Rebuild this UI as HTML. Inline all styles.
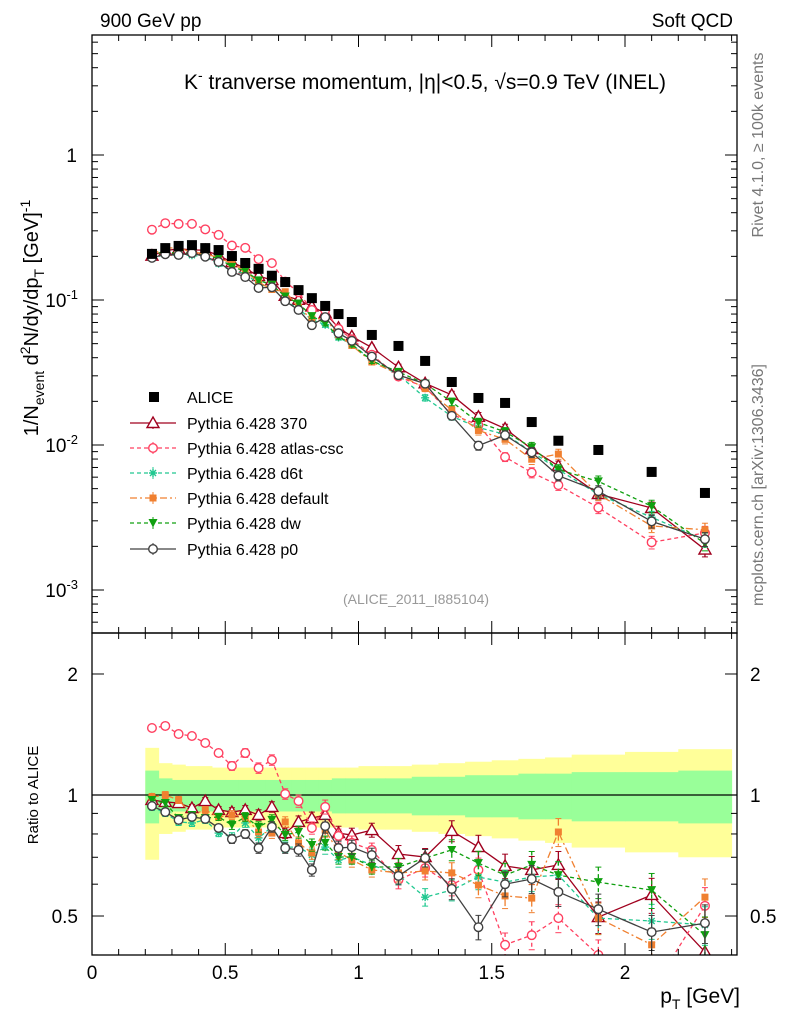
<!DOCTYPE html>
<html><head><meta charset="utf-8"><style>
html,body{margin:0;padding:0;background:#fff}
svg{display:block;font-family:"Liberation Sans",sans-serif}
</style></head><body>
<svg id="c" width="786" height="1024" viewBox="0 0 786 1024"></svg>
<script>
const xVals=[0.225,0.275,0.325,0.375,0.425,0.475,0.525,0.575,0.625,0.675,0.725,0.775,0.825,0.875,0.925,0.975,1.05,1.15,1.25,1.35,1.45,1.55,1.65,1.75,1.9,2.1,2.3];
const binEdges=[0.2,0.25,0.3,0.35,0.4,0.45,0.5,0.55,0.6,0.65,0.7,0.75,0.8,0.85,0.9,0.95,1.0,1.1,1.2,1.3,1.4,1.5,1.6,1.7,1.8,2.0,2.2,2.4];
const alice=[0.208,0.228,0.236,0.239,0.228,0.221,0.201,0.180,0.164,0.147,0.133,0.117,0.103,0.091,0.080,0.0705,0.0574,0.0482,0.0380,0.0272,0.0211,0.0195,0.0144,0.0107,0.00924,0.00652,0.00467];
const yellowErr=[0.31,0.2,0.19,0.18,0.18,0.17,0.17,0.17,0.17,0.17,0.17,0.17,0.17,0.17,0.17,0.17,0.18,0.18,0.19,0.2,0.21,0.22,0.23,0.24,0.26,0.28,0.30];
const greenErr=[0.15,0.1,0.09,0.09,0.09,0.09,0.09,0.09,0.09,0.09,0.09,0.09,0.09,0.09,0.1,0.1,0.1,0.1,0.11,0.11,0.12,0.12,0.13,0.13,0.14,0.14,0.15];
const mcErr=[0.02,0.02,0.02,0.02,0.02,0.02,0.025,0.025,0.03,0.03,0.03,0.035,0.035,0.04,0.04,0.04,0.04,0.05,0.05,0.06,0.07,0.07,0.08,0.08,0.09,0.1,0.11];
const r370=[0.972,0.961,0.955,0.928,0.966,0.918,0.907,0.918,0.892,0.934,0.804,0.857,0.876,0.892,0.804,0.795,0.818,0.713,0.701,0.814,0.742,0.666,0.651,0.670,0.497,0.564,0.407];
const rAtlas=[1.468,1.485,1.418,1.402,1.347,1.272,1.181,1.272,1.167,1.222,1.006,0.966,0.828,0.934,0.791,0.760,0.730,0.615,0.658,0.597,0.651,0.424,0.448,0.494,0.400,0.327,0.530];
const rD6t=[0.934,0.902,0.857,0.852,0.867,0.804,0.786,0.852,0.782,0.833,0.742,0.742,0.709,0.742,0.689,0.701,0.670,0.632,0.557,0.580,0.625,0.607,0.625,0.632,0.494,0.486,0.475];
const rDefault=[0.989,1.0,0.972,0.892,0.918,0.882,0.892,0.882,0.809,0.804,0.857,0.760,0.717,0.818,0.721,0.689,0.651,0.640,0.647,0.640,0.597,0.561,0.554,0.809,0.494,0.424,0.557];
const rDw=[0.972,0.955,0.876,0.892,0.876,0.882,0.842,0.882,0.833,0.867,0.795,0.809,0.751,0.760,0.701,0.701,0.662,0.662,0.697,0.730,0.677,0.632,0.670,0.632,0.607,0.580,0.448];
const rP0=[0.939,0.907,0.867,0.882,0.872,0.828,0.777,0.800,0.738,0.833,0.738,0.730,0.651,0.837,0.738,0.742,0.709,0.629,0.697,0.584,0.469,0.600,0.618,0.574,0.520,0.456,0.480];
const legendLabels=["ALICE","Pythia 6.428 370","Pythia 6.428 atlas-csc","Pythia 6.428 d6t","Pythia 6.428 default","Pythia 6.428 dw","Pythia 6.428 p0"];

const NS="http://www.w3.org/2000/svg";
const svg=document.getElementById('c');
const L=92,R=737,T1=35,B1=633,B2=955;
const X=v=>L+266.5*v;
const YM=v=>155-145*Math.log10(v);
const YR=v=>795-402*Math.log10(v);
function mk(tag,attrs,parent){const e=document.createElementNS(NS,tag);for(const k in attrs)e.setAttribute(k,attrs[k]);(parent||svg).appendChild(e);return e;}
function txt(s,x,y,size,anchor,parent,fill){const e=mk('text',{x:x,y:y,'font-size':size,'text-anchor':anchor||'start',fill:fill||'#000'},parent);e.textContent=s;return e;}

const defs=mk('defs',{});
const cp1=mk('clipPath',{id:'cp1'},defs);mk('rect',{x:L,y:T1,width:R-L,height:B1-T1},cp1);
const cp2=mk('clipPath',{id:'cp2'},defs);mk('rect',{x:L,y:B1,width:R-L,height:B2-B1},cp2);

const bands=mk('g',{'clip-path':'url(#cp2)'});


for(let i=0;i<xVals.length;i++){
  const x0=X(binEdges[i]),x1=X(binEdges[i+1]);
  const y=mk('rect',{x:x0,y:YR(1+yellowErr[i]),width:x1-x0+0.5,height:YR(1-yellowErr[i])-YR(1+yellowErr[i]),fill:'#ffff99'},bands);
  
  
}
for(let i=0;i<xVals.length;i++){
  const x0=X(binEdges[i]),x1=X(binEdges[i+1]);
  const g=mk('rect',{x:x0,y:YR(1+greenErr[i]),width:x1-x0+0.5,height:YR(1-greenErr[i])-YR(1+greenErr[i]),fill:'#99ff99'},bands);
  
  
}
const one=mk('line',{x1:L,x2:R,y1:YR(1),y2:YR(1),stroke:'#000','stroke-width':1.3});



function marker(g,type,x,y,color){
  if(type==='sq'||type==='sqF'){const s=type==='sq'?10:7;return mk('rect',{x:x-s/2,y:y-s/2,width:s,height:s,fill:color},g);}
  if(type==='tri')return mk('path',{d:`M${x},${y-6}L${x+6},${y+4.5}L${x-6},${y+4.5}Z`,fill:'#fff',stroke:color,'stroke-width':1.4},g);
  if(type==='circ')return mk('circle',{cx:x,cy:y,r:4.3,fill:'#fff',stroke:color,'stroke-width':1.4},g);
  if(type==='dtri')return mk('path',{d:`M${x-4.5},${y-4}L${x+4.5},${y-4}L${x},${y+4.5}Z`,fill:color},g);
  if(type==='star')return mk('path',{d:`M${x-4},${y}H${x+4}M${x},${y-4}V${y+4}M${x-3},${y-3}L${x+3},${y+3}M${x-3},${y+3}L${x+3},${y-3}`,stroke:color,'stroke-width':1.4},g);
}
const series=[
 {name:'370',r:r370,color:'#a0001e',dash:'',m:'tri'},
 {name:'atlas-csc',r:rAtlas,color:'#ff4060',dash:'4,3',m:'circ'},
 {name:'d6t',r:rD6t,color:'#20c890',dash:'4,3',m:'star'},
 {name:'default',r:rDefault,color:'#f08030',dash:'7,3,2,3',m:'sqF'},
 {name:'dw',r:rDw,color:'#10a010',dash:'4,3',m:'dtri'},
 {name:'p0',r:rP0,color:'#404040',dash:'',m:'circ'}
];

function drawSeries(s,panel){
  const clip=panel==='main'?'url(#cp1)':'url(#cp2)';
  const g=mk('g',{'clip-path':clip});
  
  
  const vals=s.r.map((r,i)=>panel==='main'?r*alice[i]:r);
  const Y=panel==='main'?YM:YR;
  let d='';
  vals.forEach((v,i)=>{d+=(i?'L':'M')+X(xVals[i])+','+Y(v);});
  mk('path',{d:d,fill:'none',stroke:s.color,'stroke-width':1.3,'stroke-dasharray':s.dash},g);
  vals.forEach((v,i)=>{
    const x=X(xVals[i]);
    const e=mcErr[i];
    mk('line',{x1:x,x2:x,y1:Y(v*(1+e)),y2:Y(v*(1-e)),stroke:s.color,'stroke-width':1.3,'stroke-dasharray':s.dash},g);
    mk('line',{x1:x-3,x2:x+3,y1:Y(v*(1+e)),y2:Y(v*(1+e)),stroke:s.color,'stroke-width':1},g);
    mk('line',{x1:x-3,x2:x+3,y1:Y(v*(1-e)),y2:Y(v*(1-e)),stroke:s.color,'stroke-width':1},g);
    const m=marker(g,s.m,x,Y(v),s.color);
    
    
  });
}
series.forEach(s=>drawSeries(s,'main'));
const ag=mk('g',{'clip-path':'url(#cp1)'});


alice.forEach((v,i)=>{
  const m=marker(ag,'sq',X(xVals[i]),YM(v),'#000');
  
  
});
series.forEach(s=>drawSeries(s,'ratio'));

const f1=mk('rect',{x:L,y:T1,width:R-L,height:B1-T1,fill:'none',stroke:'#000','stroke-width':1.3});


const f2=mk('rect',{x:L,y:B1,width:R-L,height:B2-B1,fill:'none',stroke:'#000','stroke-width':1.3});



const tg=mk('g',{stroke:'#000','stroke-width':1});


for(let k=0;k<=24;k++){
  const v=k/10,x=X(v);if(x>R)break;
  const maj=k%5===0,len=maj?12:6;
  [[T1,1],[B1,-1],[B1,1],[B2,-1]].forEach(([y,dir])=>mk('line',{x1:x,x2:x,y1:y,y2:y+dir*len},tg));
}
for(let dec=-4;dec<=1;dec++){
  for(let m=1;m<10;m++){
    const v=m*Math.pow(10,dec),y=YM(v);
    if(y<T1||y>B1)continue;
    const len=m===1?12:6;
    mk('line',{x1:L,x2:L+len,y1:y,y2:y},tg);mk('line',{x1:R,x2:R-len,y1:y,y2:y},tg);
  }
}
[0.4,0.5,0.6,0.7,0.8,0.9,1,2].forEach(v=>{
  const y=YR(v);const len=(v===0.5||v===1||v===2)?12:6;
  mk('line',{x1:L,x2:L+len,y1:y,y2:y},tg);mk('line',{x1:R,x2:R-len,y1:y,y2:y},tg);
});

const xTickLabels=["0","0.5","1","1.5","2"];
const xtg=mk('g',{});


xTickLabels.forEach(s=>txt(s,X(parseFloat(s)),979,19,'middle',xtg));
const ytg=mk('g',{});


txt('1',77,162,19,'end',ytg);
[-1,-2,-3].forEach(d=>{const t=mk('text',{x:78,y:YM(Math.pow(10,d))+7,'font-size':19,'text-anchor':'end'},ytg);t.innerHTML='10<tspan dy="-8" font-size="13">'+d+'</tspan>';});
const ratioTickLabels=["2","1","0.5"];
ratioTickLabels.forEach(s=>{const y=YR(parseFloat(s))+7;txt(s,78,y,19,'end',ytg);txt(s,750,y,19,'start',ytg);});

const t1=txt('900 GeV pp',100,27,19,'start');
const t2=txt('Soft QCD',733,27,19,'end');
const tt=mk('text',{x:425,y:89,'font-size':21,'text-anchor':'middle'});
tt.innerHTML='K<tspan dy="-9" font-size="14">-</tspan><tspan dy="9"> tranverse momentum, |η|&lt;0.5, √s=0.9 TeV (INEL)</tspan>';

const yl=mk('text',{x:0,y:0,'font-size':20,'text-anchor':'middle',transform:'translate(38,318) rotate(-90)'});
yl.innerHTML='1/N<tspan dy="6" font-size="14">event</tspan><tspan dy="-6"> d</tspan><tspan dy="-8" font-size="14">2</tspan><tspan dy="8">N/dy/dp</tspan><tspan dy="6" font-size="14">T</tspan><tspan dy="-6"> [GeV]</tspan><tspan dy="-8" font-size="14">-1</tspan>';

const rl=mk('text',{x:0,y:0,'font-size':15,'text-anchor':'middle',transform:'translate(38,795) rotate(-90)'});
rl.textContent='Ratio to ALICE';
const xl=mk('text',{x:740,y:1003,'font-size':21,'text-anchor':'end'});
xl.innerHTML='p<tspan dy="6" font-size="14">T</tspan><tspan dy="-6"> [GeV]</tspan>';

const rv=mk('text',{x:0,y:0,'font-size':16,'text-anchor':'middle',fill:'#777',transform:'translate(763,145) rotate(-90)'});
rv.textContent='Rivet 4.1.0, ≥ 100k events';
const mc=mk('text',{x:0,y:0,'font-size':16,'text-anchor':'middle',fill:'#777',transform:'translate(763,485) rotate(-90)'});
mc.textContent='mcplots.cern.ch [arXiv:1306.3436]';
const an=txt('(ALICE_2011_I885104)',416,604,14,'middle',svg,'#999');

const lg=mk('g',{});


const legY=[397,423,448,473,498,523,549];
legendLabels.forEach((lab,i)=>{
  const y=legY[i];
  const e=mk('g',{},lg);
  
  
  if(i===0){marker(e,'sq',154,y,'#000');}
  else{const s=series[i-1];
    mk('line',{x1:130,x2:176,y1:y,y2:y,stroke:s.color,'stroke-width':1.3,'stroke-dasharray':s.dash},e);
    mk('line',{x1:153,x2:153,y1:y-6,y2:y+6,stroke:s.color,'stroke-width':1},e);
    marker(e,s.m,153,y,s.color);}
  txt(lab,187,y+6,16,'start',e);
});
</script>
</body></html>
